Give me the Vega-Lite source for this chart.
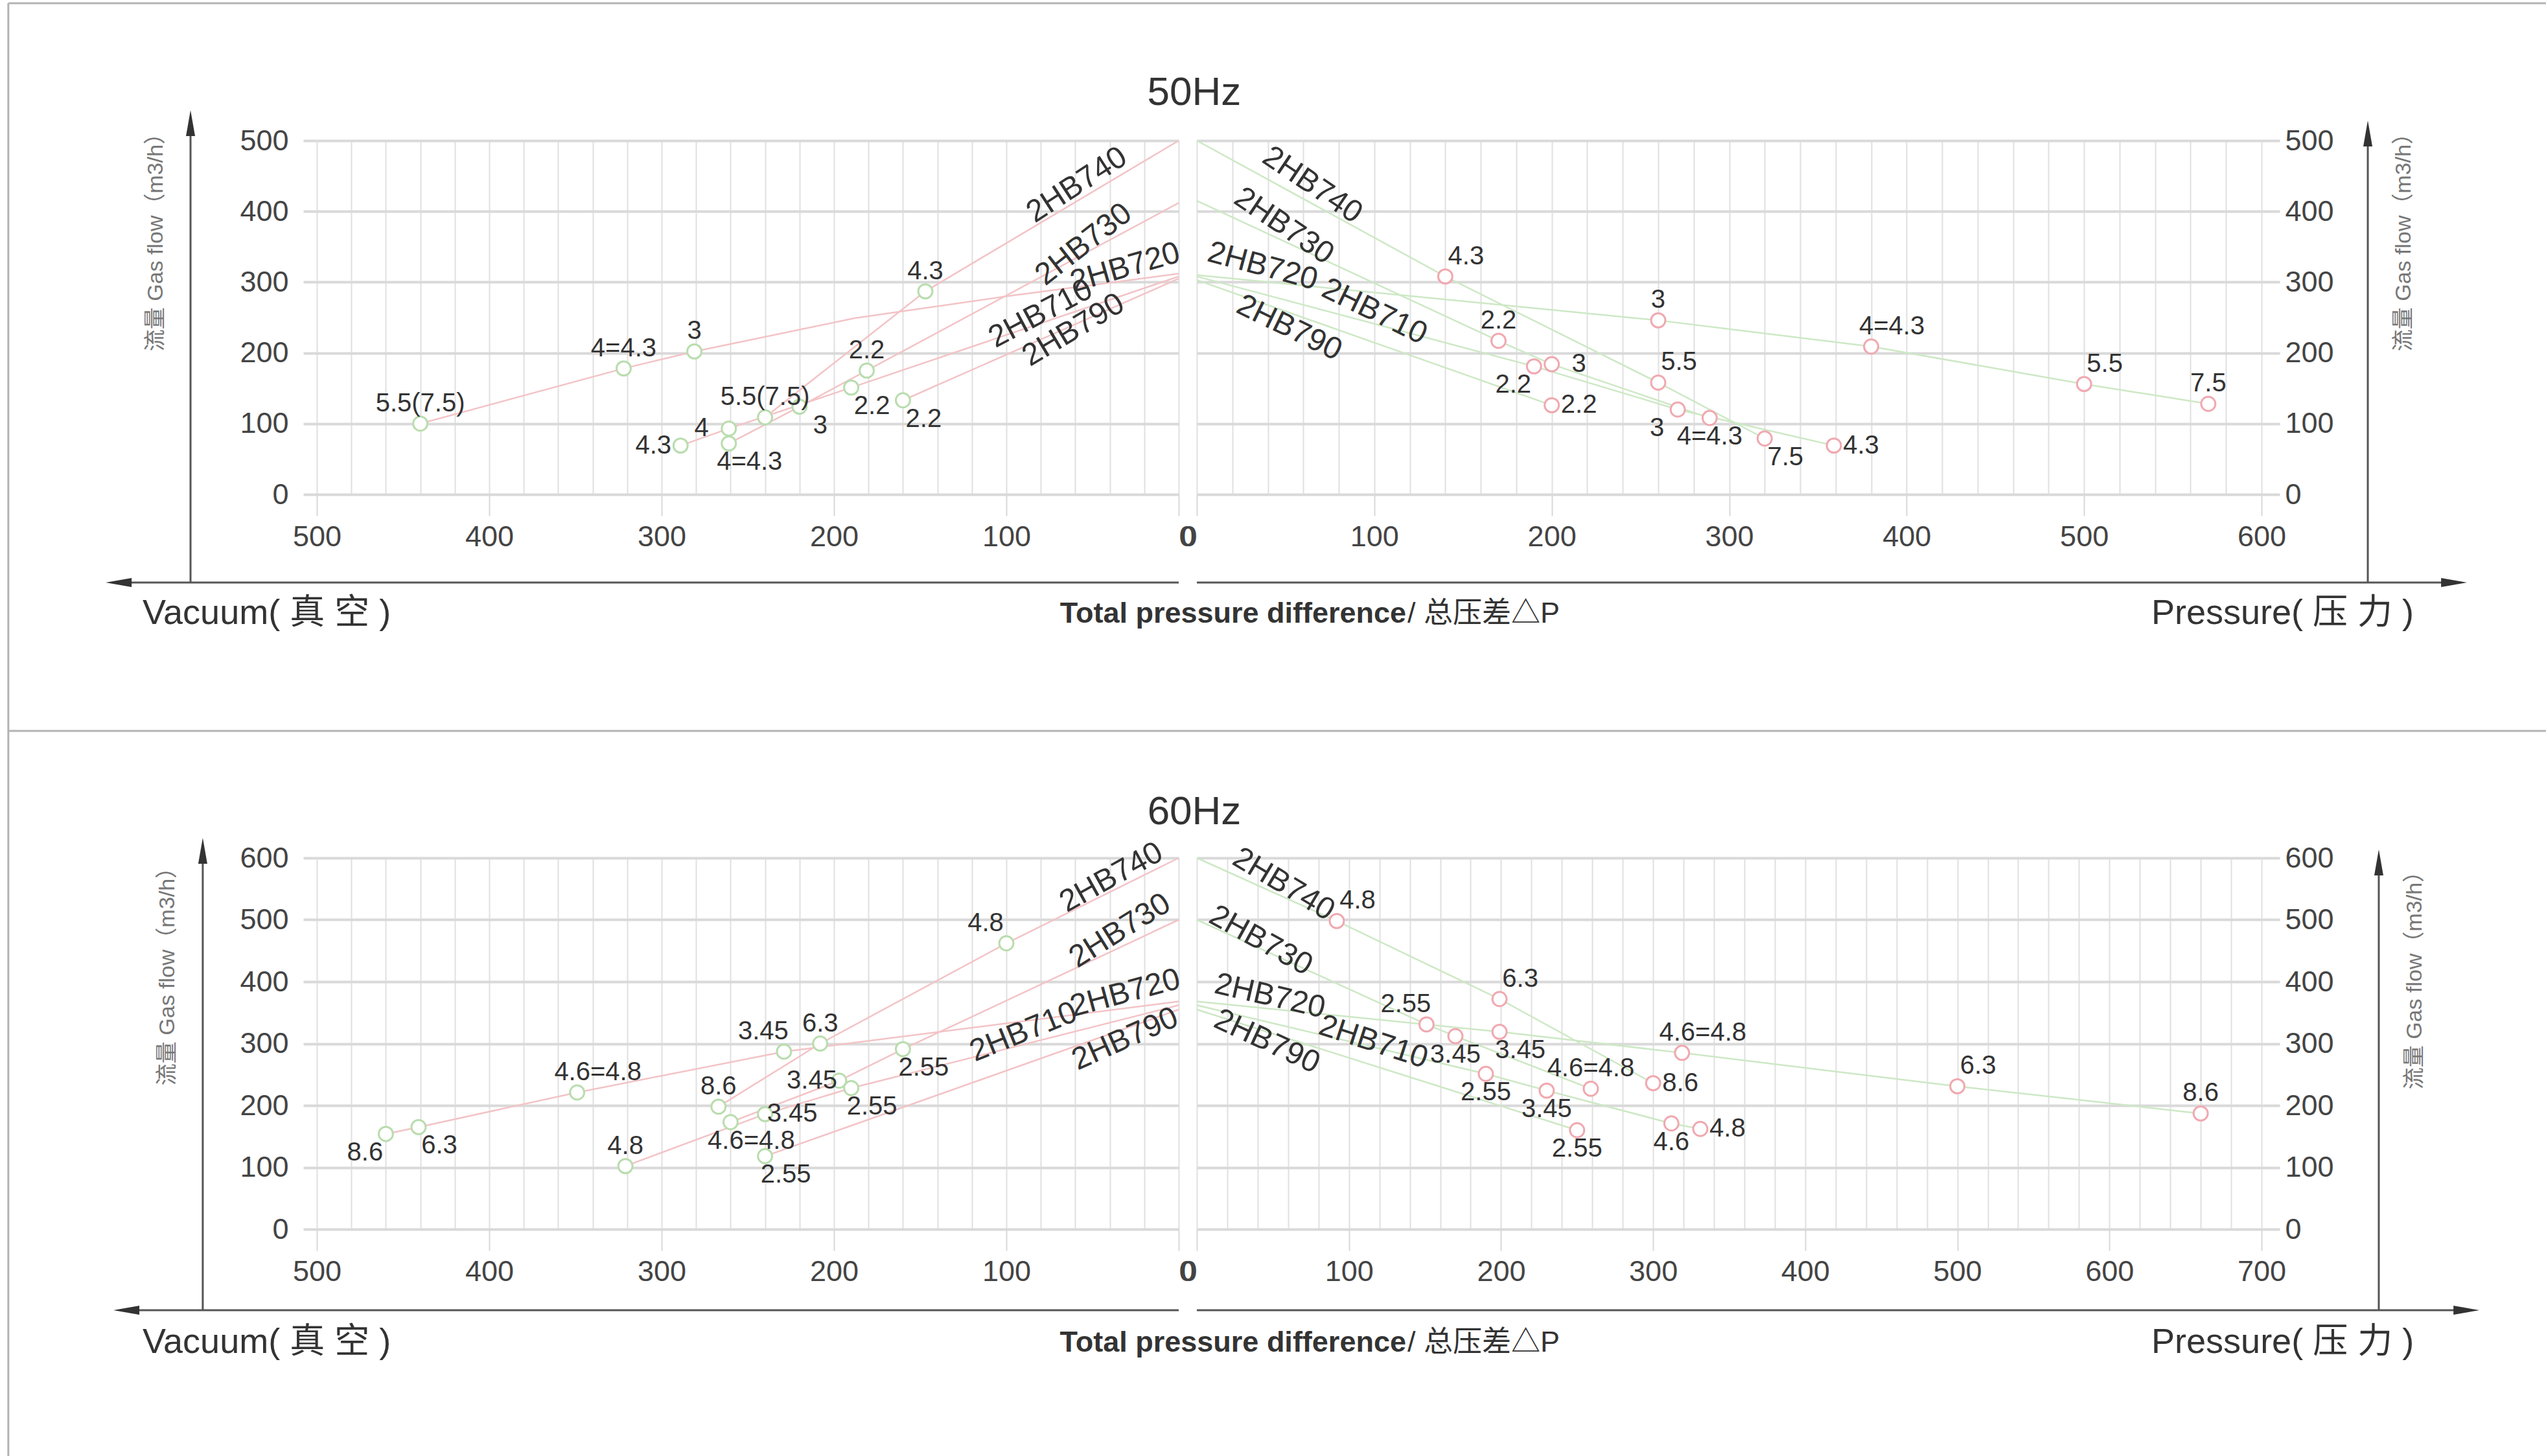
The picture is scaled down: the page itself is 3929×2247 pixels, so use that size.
{
  "$schema": "https://vega.github.io/schema/vega-lite/v6.json",
  "autosize": {"type": "none"},
  "padding": {"left": 489, "top": 217, "right": 3440, "bottom": 2030},
  "background": "#ffffff",
  "columns": 2,
  "spacing": {"row": 561, "column": 28},
  "bounds": "flush",
  "datasets": {
    "curves": [
      {"f":50,"s":"v","m":"2HB740","p":0,"q":500},
      {"f":50,"s":"v","m":"2HB740","p":147,"q":287,"kw":"4.3","pos":"t"},
      {"f":50,"s":"v","m":"2HB740","p":240,"q":109,"kw":"5.5(7.5)","pos":"t"},
      {"f":50,"s":"v","m":"2HB730","p":0,"q":412},
      {"f":50,"s":"v","m":"2HB730","p":181,"q":175,"kw":"2.2","pos":"t"},
      {"f":50,"s":"v","m":"2HB730","p":220,"q":124,"kw":"3","pos":"br"},
      {"f":50,"s":"v","m":"2HB730","p":261,"q":72,"kw":"4=4.3","pos":"br"},
      {"f":50,"s":"v","m":"2HB720","p":0,"q":312},
      {"f":50,"s":"v","m":"2HB720","p":100,"q":280},
      {"f":50,"s":"v","m":"2HB720","p":188,"q":249},
      {"f":50,"s":"v","m":"2HB720","p":281,"q":202,"kw":"3","pos":"t"},
      {"f":50,"s":"v","m":"2HB720","p":322,"q":178,"kw":"4=4.3","pos":"t"},
      {"f":50,"s":"v","m":"2HB720","p":440,"q":100,"kw":"5.5(7.5)","pos":"t"},
      {"f":50,"s":"v","m":"2HB710","p":0,"q":308},
      {"f":50,"s":"v","m":"2HB710","p":190,"q":151,"kw":"2.2","pos":"br"},
      {"f":50,"s":"v","m":"2HB710","p":261,"q":93,"kw":"4","pos":"l"},
      {"f":50,"s":"v","m":"2HB710","p":289,"q":69,"kw":"4.3","pos":"l"},
      {"f":50,"s":"v","m":"2HB790","p":0,"q":305},
      {"f":50,"s":"v","m":"2HB790","p":160,"q":133,"kw":"2.2","pos":"br"},

      {"f":50,"s":"p","m":"2HB740","p":0,"q":500},
      {"f":50,"s":"p","m":"2HB740","p":140,"q":308,"kw":"4.3","pos":"tr"},
      {"f":50,"s":"p","m":"2HB740","p":260,"q":158,"kw":"5.5","pos":"tr"},
      {"f":50,"s":"p","m":"2HB740","p":320,"q":79,"kw":"7.5","pos":"br"},
      {"f":50,"s":"p","m":"2HB730","p":0,"q":415},
      {"f":50,"s":"p","m":"2HB730","p":170,"q":217,"kw":"2.2","pos":"t"},
      {"f":50,"s":"p","m":"2HB730","p":200,"q":184,"kw":"3","pos":"r"},
      {"f":50,"s":"p","m":"2HB730","p":289,"q":108,"kw":"4=4.3","pos":"b"},
      {"f":50,"s":"p","m":"2HB720","p":0,"q":310},
      {"f":50,"s":"p","m":"2HB720","p":260,"q":246,"kw":"3","pos":"t"},
      {"f":50,"s":"p","m":"2HB720","p":380,"q":209,"kw":"4=4.3","pos":"tr"},
      {"f":50,"s":"p","m":"2HB720","p":500,"q":156,"kw":"5.5","pos":"tr"},
      {"f":50,"s":"p","m":"2HB720","p":570,"q":128,"kw":"7.5","pos":"t"},
      {"f":50,"s":"p","m":"2HB710","p":0,"q":308},
      {"f":50,"s":"p","m":"2HB710","p":190,"q":181,"kw":"2.2","pos":"bl"},
      {"f":50,"s":"p","m":"2HB710","p":271,"q":120,"kw":"3","pos":"bl"},
      {"f":50,"s":"p","m":"2HB710","p":359,"q":69,"kw":"4.3","pos":"r"},
      {"f":50,"s":"p","m":"2HB790","p":0,"q":303},
      {"f":50,"s":"p","m":"2HB790","p":200,"q":126,"kw":"2.2","pos":"r"},

      {"f":60,"s":"v","m":"2HB740","p":0,"q":600},
      {"f":60,"s":"v","m":"2HB740","p":100,"q":462,"kw":"4.8","pos":"tl"},
      {"f":60,"s":"v","m":"2HB740","p":208,"q":300,"kw":"6.3","pos":"t"},
      {"f":60,"s":"v","m":"2HB740","p":267,"q":198,"kw":"8.6","pos":"t"},
      {"f":60,"s":"v","m":"2HB730","p":0,"q":500},
      {"f":60,"s":"v","m":"2HB730","p":160,"q":291,"kw":"2.55","pos":"br"},
      {"f":60,"s":"v","m":"2HB730","p":197,"q":240,"kw":"3.45","pos":"l"},
      {"f":60,"s":"v","m":"2HB730","p":260,"q":173,"kw":"4.6=4.8","pos":"br"},
      {"f":60,"s":"v","m":"2HB720","p":0,"q":368},
      {"f":60,"s":"v","m":"2HB720","p":229,"q":287,"kw":"3.45","pos":"tl"},
      {"f":60,"s":"v","m":"2HB720","p":349,"q":221,"kw":"4.6=4.8","pos":"tr"},
      {"f":60,"s":"v","m":"2HB720","p":441,"q":165,"kw":"6.3","pos":"br"},
      {"f":60,"s":"v","m":"2HB720","p":460,"q":154,"kw":"8.6","pos":"bl"},
      {"f":60,"s":"v","m":"2HB710","p":0,"q":362},
      {"f":60,"s":"v","m":"2HB710","p":190,"q":228,"kw":"2.55","pos":"br"},
      {"f":60,"s":"v","m":"2HB710","p":240,"q":186,"kw":"3.45","pos":"r"},
      {"f":60,"s":"v","m":"2HB710","p":321,"q":102,"kw":"4.8","pos":"t"},
      {"f":60,"s":"v","m":"2HB790","p":0,"q":355},
      {"f":60,"s":"v","m":"2HB790","p":240,"q":118,"kw":"2.55","pos":"br"},

      {"f":60,"s":"p","m":"2HB740","p":0,"q":600},
      {"f":60,"s":"p","m":"2HB740","p":92,"q":498,"kw":"4.8","pos":"tr"},
      {"f":60,"s":"p","m":"2HB740","p":199,"q":372,"kw":"6.3","pos":"tr"},
      {"f":60,"s":"p","m":"2HB740","p":300,"q":236,"kw":"8.6","pos":"r"},
      {"f":60,"s":"p","m":"2HB730","p":0,"q":500},
      {"f":60,"s":"p","m":"2HB730","p":151,"q":331,"kw":"2.55","pos":"tl"},
      {"f":60,"s":"p","m":"2HB730","p":170,"q":312,"kw":"3.45","pos":"b"},
      {"f":60,"s":"p","m":"2HB730","p":259,"q":227,"kw":"4.6=4.8","pos":"t"},
      {"f":60,"s":"p","m":"2HB720","p":0,"q":368},
      {"f":60,"s":"p","m":"2HB720","p":199,"q":319,"kw":"3.45","pos":"br"},
      {"f":60,"s":"p","m":"2HB720","p":319,"q":285,"kw":"4.6=4.8","pos":"tr"},
      {"f":60,"s":"p","m":"2HB720","p":500,"q":231,"kw":"6.3","pos":"tr"},
      {"f":60,"s":"p","m":"2HB720","p":660,"q":187,"kw":"8.6","pos":"t"},
      {"f":60,"s":"p","m":"2HB710","p":0,"q":362},
      {"f":60,"s":"p","m":"2HB710","p":190,"q":251,"kw":"2.55","pos":"b"},
      {"f":60,"s":"p","m":"2HB710","p":230,"q":224,"kw":"3.45","pos":"b"},
      {"f":60,"s":"p","m":"2HB710","p":312,"q":171,"kw":"4.6","pos":"b"},
      {"f":60,"s":"p","m":"2HB710","p":331,"q":162,"kw":"4.8","pos":"r"},
      {"f":60,"s":"p","m":"2HB790","p":0,"q":355},
      {"f":60,"s":"p","m":"2HB790","p":250,"q":160,"kw":"2.55","pos":"b"}
    ],
    "models": [
      {"f":50,"s":"v","m":"2HB740","lx":59,"ly":437},
      {"f":50,"s":"v","m":"2HB730","lx":55,"ly":353},
      {"f":50,"s":"v","m":"2HB720","lx":31,"ly":320},
      {"f":50,"s":"v","m":"2HB710","lx":80,"ly":255},
      {"f":50,"s":"v","m":"2HB790","lx":61,"ly":232},
      {"f":50,"s":"p","m":"2HB740","lx":65,"ly":437},
      {"f":50,"s":"p","m":"2HB730","lx":49,"ly":379},
      {"f":50,"s":"p","m":"2HB720","lx":37,"ly":322},
      {"f":50,"s":"p","m":"2HB710","lx":100,"ly":258},
      {"f":50,"s":"p","m":"2HB790","lx":52,"ly":235},
      {"f":60,"s":"v","m":"2HB740","lx":39,"ly":568},
      {"f":60,"s":"v","m":"2HB730","lx":34,"ly":482},
      {"f":60,"s":"v","m":"2HB720","lx":31,"ly":381},
      {"f":60,"s":"v","m":"2HB710","lx":90,"ly":318},
      {"f":60,"s":"v","m":"2HB790","lx":31,"ly":307},
      {"f":60,"s":"p","m":"2HB740","lx":57,"ly":557},
      {"f":60,"s":"p","m":"2HB730","lx":42,"ly":466},
      {"f":60,"s":"p","m":"2HB720","lx":48,"ly":376},
      {"f":60,"s":"p","m":"2HB710","lx":116,"ly":302},
      {"f":60,"s":"p","m":"2HB790","lx":46,"ly":303}
    ]
  },
  "concat": [
    {
      "width": 1330, "height": 546,
      "layer": [
        {
          "data": {"name": "curves"},
          "transform": [{"filter": "datum.f == 50 && datum.s == 'v'"}],
          "mark": {"type": "line", "color": "#f3c3c6", "strokeWidth": 2.5},
          "encoding": {
            "x": {"field": "p", "type": "quantitative",
              "scale": {"domain": [0, 500], "reverse": true, "nice": false, "zero": false},
              "axis": {"values": [0,20,40,60,80,100,120,140,160,180,200,220,240,260,280,300,320,340,360,380,400,420,440,460,480,500],
                "labelExpr": "datum.value % 100 === 0 ? datum.label : ''",
                "labelAlign": {"condition": {"test": "datum.value === 0", "value": "left"}, "value": "center"},
                "tickOpacity": {"condition": {"test": "datum.value % 100 === 0", "value": 1}, "value": 0},
                "title": null}},
            "y": {"field": "q", "type": "quantitative",
              "scale": {"domain": [0, 500], "nice": false},
              "axis": {"values": [0,100,200,300,400,500], "tickSize": 21, "labelPadding": 23,
                "title": "流量 Gas flow（m3/h）", "titleX": -249, "titleY": 148}},
            "detail": {"field": "m"}
          }
        },
        {
          "data": {"name": "curves"},
          "transform": [{"filter": "datum.f == 50 && datum.s == 'v' && isValid(datum.kw)"}],
          "mark": {"type": "point", "filled": true, "color": "#ffffff", "stroke": "#b9ddae", "strokeWidth": 3, "size": 480, "opacity": 1},
          "encoding": {"x": {"field": "p", "type": "quantitative"}, "y": {"field": "q", "type": "quantitative"}}
        },
        {
          "data": {"name": "curves"},
          "transform": [{"filter": "datum.f == 50 && datum.s == 'v' && isValid(datum.kw)"}],
          "mark": {"type": "text", "font": "Liberation Sans", "fontSize": 40, "color": "#333333", "align": "center", "baseline": "middle",
            "dx": {"expr": "datum.pos=='t'||datum.pos=='b' ? 0 : datum.pos=='l' ? -42 : datum.pos=='r' ? 42 : (datum.pos=='tl'||datum.pos=='bl') ? -32 : 32"},
            "dy": {"expr": "datum.pos=='l'||datum.pos=='r' ? 0 : (datum.pos=='t'||datum.pos=='tl'||datum.pos=='tr') ? -31 : 29"}},
          "encoding": {"x": {"field": "p", "type": "quantitative"}, "y": {"field": "q", "type": "quantitative"}, "text": {"field": "kw"}}
        },
        {
          "data": {"name": "models"},
          "transform": [{"filter": "datum.f == 50 && datum.s == 'v'"}],
          "mark": {"type": "text", "font": "Liberation Sans", "fontSize": 48, "color": "#333333", "align": "center", "baseline": "middle",
            "angle": {"expr": "datum.m=='2HB740' ? 327 : datum.m=='2HB730' ? 322 : datum.m=='2HB720' ? 344 : datum.m=='2HB710' ? 332 : 329"}},
          "encoding": {"x": {"field": "lx", "type": "quantitative"}, "y": {"field": "ly", "type": "quantitative"}, "text": {"field": "m"}}
        },
        {
          "data": {"values": [{}]},
          "layer": [
            {"mark": {"type": "rule", "color": "#b3b3b3", "strokeWidth": 3}, "encoding": {"x": {"datum": 679}, "y": {"datum": 694.1}, "y2": {"datum": -1359}}},
            {"mark": {"type": "rule", "color": "#b3b3b3", "strokeWidth": 3}, "encoding": {"x": {"datum": 679}, "x2": {"datum": -793.2}, "y": {"datum": 694.1}}},
            {"mark": {"type": "rule", "color": "#b3b3b3", "strokeWidth": 3}, "encoding": {"x": {"datum": 679}, "x2": {"datum": -793.2}, "y": {"datum": -334.2}}},
            {"mark": {"type": "rule", "color": "#555555", "strokeWidth": 3}, "encoding": {"x": {"datum": 573.3}, "y": {"datum": -124.5}, "y2": {"datum": 524.7}}},
            {"mark": {"type": "rule", "color": "#555555", "strokeWidth": 3}, "encoding": {"x": {"datum": 0}, "x2": {"datum": 615}, "y": {"datum": -124.5}}},
            {"mark": {"type": "point", "shape": "M0,-1L0.35,1L-0.35,1Z", "filled": true, "color": "#333333", "size": 1600, "opacity": 1}, "encoding": {"x": {"datum": 573.3}, "y": {"datum": 524.7}}},
            {"mark": {"type": "point", "shape": "M-1,0L1,-0.35L1,0.35Z", "filled": true, "color": "#333333", "size": 1600, "opacity": 1}, "encoding": {"x": {"datum": 615}, "y": {"datum": -124.5}}},
            {"mark": {"type": "text", "text": "Vacuum( 真 空 )", "font": "Liberation Sans, Noto Sans CJK SC", "fontSize": 54, "color": "#333333", "align": "left", "baseline": "middle"}, "encoding": {"x": {"datum": 601.1}, "y": {"datum": -168.5}}}
          ]
        }
      ]
    },
    {
      "width": 1643, "height": 546,
      "layer": [
        {
          "data": {"name": "curves"},
          "transform": [{"filter": "datum.f == 50 && datum.s == 'p'"}],
          "mark": {"type": "line", "color": "#cde8c5", "strokeWidth": 2.5},
          "encoding": {
            "x": {"field": "p", "type": "quantitative",
              "scale": {"domain": [0, 600], "nice": false, "zero": false},
              "axis": {"values": [0,20,40,60,80,100,120,140,160,180,200,220,240,260,280,300,320,340,360,380,400,420,440,460,480,500,520,540,560,580,600],
                "labelExpr": "datum.value % 100 === 0 ? datum.label : ''",
                "labelAlign": {"condition": {"test": "datum.value === 0", "value": "right"}, "value": "center"},
                "tickOpacity": {"condition": {"test": "datum.value % 100 === 0", "value": 1}, "value": 0},
                "title": null}},
            "y": {"field": "q", "type": "quantitative",
              "scale": {"domain": [0, 500], "nice": false},
              "axis": {"orient": "right", "values": [0,100,200,300,400,500], "tickSize": 28, "labelPadding": 8,
                "title": "流量 Gas flow（m3/h）", "titleAngle": 270, "titleX": 219, "titleY": 148}},
            "detail": {"field": "m"}
          }
        },
        {
          "data": {"name": "curves"},
          "transform": [{"filter": "datum.f == 50 && datum.s == 'p' && isValid(datum.kw)"}],
          "mark": {"type": "point", "filled": true, "color": "#ffffff", "stroke": "#f0a9b0", "strokeWidth": 3, "size": 480, "opacity": 1},
          "encoding": {"x": {"field": "p", "type": "quantitative"}, "y": {"field": "q", "type": "quantitative"}}
        },
        {
          "data": {"name": "curves"},
          "transform": [{"filter": "datum.f == 50 && datum.s == 'p' && isValid(datum.kw)"}],
          "mark": {"type": "text", "font": "Liberation Sans", "fontSize": 40, "color": "#333333", "align": "center", "baseline": "middle",
            "dx": {"expr": "datum.pos=='t'||datum.pos=='b' ? 0 : datum.pos=='l' ? -42 : datum.pos=='r' ? 42 : (datum.pos=='tl'||datum.pos=='bl') ? -32 : 32"},
            "dy": {"expr": "datum.pos=='l'||datum.pos=='r' ? 0 : (datum.pos=='t'||datum.pos=='tl'||datum.pos=='tr') ? -31 : 29"}},
          "encoding": {"x": {"field": "p", "type": "quantitative"}, "y": {"field": "q", "type": "quantitative"}, "text": {"field": "kw"}}
        },
        {
          "data": {"name": "models"},
          "transform": [{"filter": "datum.f == 50 && datum.s == 'p'"}],
          "mark": {"type": "text", "font": "Liberation Sans", "fontSize": 48, "color": "#333333", "align": "center", "baseline": "middle",
            "angle": {"expr": "datum.m=='2HB740' ? 34 : datum.m=='2HB730' ? 34 : datum.m=='2HB720' ? 15 : datum.m=='2HB710' ? 26 : 26"}},
          "encoding": {"x": {"field": "lx", "type": "quantitative"}, "y": {"field": "ly", "type": "quantitative"}, "text": {"field": "m"}}
        },
        {
          "data": {"values": [{}]},
          "layer": [
            {"mark": {"type": "rule", "color": "#555555", "strokeWidth": 3}, "encoding": {"x": {"datum": 659.9}, "y": {"datum": -124.5}, "y2": {"datum": 510.1}}},
            {"mark": {"type": "rule", "color": "#555555", "strokeWidth": 3}, "encoding": {"x": {"datum": 0}, "x2": {"datum": 708.5}, "y": {"datum": -124.5}}},
            {"mark": {"type": "point", "shape": "M0,-1L0.35,1L-0.35,1Z", "filled": true, "color": "#333333", "size": 1600, "opacity": 1}, "encoding": {"x": {"datum": 659.9}, "y": {"datum": 510.1}}},
            {"mark": {"type": "point", "shape": "M1,0L-1,-0.35L-1,0.35Z", "filled": true, "color": "#333333", "size": 1600, "opacity": 1}, "encoding": {"x": {"datum": 708.5}, "y": {"datum": -124.5}}},
            {"mark": {"type": "text", "text": "Total pressure difference", "font": "Liberation Sans", "fontWeight": "bold", "fontSize": 45, "color": "#333333", "align": "right", "baseline": "middle"}, "encoding": {"x": {"datum": 118.0}, "y": {"datum": -168.5}}},
            {"mark": {"type": "text", "text": "/ 总压差△P", "font": "Liberation Sans, Noto Sans CJK SC", "fontSize": 45, "color": "#333333", "align": "left", "baseline": "middle"}, "encoding": {"x": {"datum": 118.7}, "y": {"datum": -168.5}}},
            {"mark": {"type": "text", "text": "Pressure( 压 力 )", "font": "Liberation Sans, Noto Sans CJK SC", "fontSize": 54, "color": "#333333", "align": "left", "baseline": "middle"}, "encoding": {"x": {"datum": 537.9}, "y": {"datum": -168.5}}},
            {"mark": {"type": "text", "text": "50Hz", "font": "Liberation Sans", "fontSize": 62, "color": "#333333", "align": "center", "baseline": "middle"}, "encoding": {"x": {"datum": -1.5}, "y": {"datum": 567.8}}}
          ]
        }
      ]
    },
    {
      "width": 1330, "height": 573,
      "layer": [
        {
          "data": {"name": "curves"},
          "transform": [{"filter": "datum.f == 60 && datum.s == 'v'"}],
          "mark": {"type": "line", "color": "#f3c3c6", "strokeWidth": 2.5},
          "encoding": {
            "x": {"field": "p", "type": "quantitative",
              "scale": {"domain": [0, 500], "reverse": true, "nice": false, "zero": false},
              "axis": {"values": [0,20,40,60,80,100,120,140,160,180,200,220,240,260,280,300,320,340,360,380,400,420,440,460,480,500],
                "labelExpr": "datum.value % 100 === 0 ? datum.label : ''",
                "labelAlign": {"condition": {"test": "datum.value === 0", "value": "left"}, "value": "center"},
                "tickOpacity": {"condition": {"test": "datum.value % 100 === 0", "value": 1}, "value": 0},
                "title": null}},
            "y": {"field": "q", "type": "quantitative",
              "scale": {"domain": [0, 600], "nice": false},
              "axis": {"values": [0,100,200,300,400,500,600], "tickSize": 21, "labelPadding": 23,
                "title": "流量 Gas flow（m3/h）", "titleX": -231, "titleY": 174}},
            "detail": {"field": "m"}
          }
        },
        {
          "data": {"name": "curves"},
          "transform": [{"filter": "datum.f == 60 && datum.s == 'v' && isValid(datum.kw)"}],
          "mark": {"type": "point", "filled": true, "color": "#ffffff", "stroke": "#b9ddae", "strokeWidth": 3, "size": 480, "opacity": 1},
          "encoding": {"x": {"field": "p", "type": "quantitative"}, "y": {"field": "q", "type": "quantitative"}}
        },
        {
          "data": {"name": "curves"},
          "transform": [{"filter": "datum.f == 60 && datum.s == 'v' && isValid(datum.kw)"}],
          "mark": {"type": "text", "font": "Liberation Sans", "fontSize": 40, "color": "#333333", "align": "center", "baseline": "middle",
            "dx": {"expr": "datum.pos=='t'||datum.pos=='b' ? 0 : datum.pos=='l' ? -42 : datum.pos=='r' ? 42 : (datum.pos=='tl'||datum.pos=='bl') ? -32 : 32"},
            "dy": {"expr": "datum.pos=='l'||datum.pos=='r' ? 0 : (datum.pos=='t'||datum.pos=='tl'||datum.pos=='tr') ? -31 : 29"}},
          "encoding": {"x": {"field": "p", "type": "quantitative"}, "y": {"field": "q", "type": "quantitative"}, "text": {"field": "kw"}}
        },
        {
          "data": {"name": "models"},
          "transform": [{"filter": "datum.f == 60 && datum.s == 'v'"}],
          "mark": {"type": "text", "font": "Liberation Sans", "fontSize": 48, "color": "#333333", "align": "center", "baseline": "middle",
            "angle": {"expr": "datum.m=='2HB740' ? 331 : datum.m=='2HB730' ? 328 : datum.m=='2HB720' ? 345 : datum.m=='2HB710' ? 338 : 336"}},
          "encoding": {"x": {"field": "lx", "type": "quantitative"}, "y": {"field": "ly", "type": "quantitative"}, "text": {"field": "m"}}
        },
        {
          "data": {"values": [{}]},
          "layer": [
            {"mark": {"type": "rule", "color": "#555555", "strokeWidth": 3}, "encoding": {"x": {"datum": 566.2}, "y": {"datum": -130.9}, "y2": {"datum": 611.5}}},
            {"mark": {"type": "rule", "color": "#555555", "strokeWidth": 3}, "encoding": {"x": {"datum": 0}, "x2": {"datum": 610.5}, "y": {"datum": -130.9}}},
            {"mark": {"type": "point", "shape": "M0,-1L0.35,1L-0.35,1Z", "filled": true, "color": "#333333", "size": 1600, "opacity": 1}, "encoding": {"x": {"datum": 566.2}, "y": {"datum": 611.5}}},
            {"mark": {"type": "point", "shape": "M-1,0L1,-0.35L1,0.35Z", "filled": true, "color": "#333333", "size": 1600, "opacity": 1}, "encoding": {"x": {"datum": 610.5}, "y": {"datum": -130.9}}},
            {"mark": {"type": "text", "text": "Vacuum( 真 空 )", "font": "Liberation Sans, Noto Sans CJK SC", "fontSize": 54, "color": "#333333", "align": "left", "baseline": "middle"}, "encoding": {"x": {"datum": 601.1}, "y": {"datum": -183.2}}}
          ]
        }
      ]
    },
    {
      "width": 1643, "height": 573,
      "layer": [
        {
          "data": {"name": "curves"},
          "transform": [{"filter": "datum.f == 60 && datum.s == 'p'"}],
          "mark": {"type": "line", "color": "#cde8c5", "strokeWidth": 2.5},
          "encoding": {
            "x": {"field": "p", "type": "quantitative",
              "scale": {"domain": [0, 700], "nice": false, "zero": false},
              "axis": {"values": [0,20,40,60,80,100,120,140,160,180,200,220,240,260,280,300,320,340,360,380,400,420,440,460,480,500,520,540,560,580,600,620,640,660,680,700],
                "labelExpr": "datum.value % 100 === 0 ? datum.label : ''",
                "labelAlign": {"condition": {"test": "datum.value === 0", "value": "right"}, "value": "center"},
                "tickOpacity": {"condition": {"test": "datum.value % 100 === 0", "value": 1}, "value": 0},
                "title": null}},
            "y": {"field": "q", "type": "quantitative",
              "scale": {"domain": [0, 600], "nice": false},
              "axis": {"orient": "right", "values": [0,100,200,300,400,500,600], "tickSize": 28, "labelPadding": 8,
                "title": "流量 Gas flow（m3/h）", "titleAngle": 270, "titleX": 236, "titleY": 180}},
            "detail": {"field": "m"}
          }
        },
        {
          "data": {"name": "curves"},
          "transform": [{"filter": "datum.f == 60 && datum.s == 'p' && isValid(datum.kw)"}],
          "mark": {"type": "point", "filled": true, "color": "#ffffff", "stroke": "#f0a9b0", "strokeWidth": 3, "size": 480, "opacity": 1},
          "encoding": {"x": {"field": "p", "type": "quantitative"}, "y": {"field": "q", "type": "quantitative"}}
        },
        {
          "data": {"name": "curves"},
          "transform": [{"filter": "datum.f == 60 && datum.s == 'p' && isValid(datum.kw)"}],
          "mark": {"type": "text", "font": "Liberation Sans", "fontSize": 40, "color": "#333333", "align": "center", "baseline": "middle",
            "dx": {"expr": "datum.pos=='t'||datum.pos=='b' ? 0 : datum.pos=='l' ? -42 : datum.pos=='r' ? 42 : (datum.pos=='tl'||datum.pos=='bl') ? -32 : 32"},
            "dy": {"expr": "datum.pos=='l'||datum.pos=='r' ? 0 : (datum.pos=='t'||datum.pos=='tl'||datum.pos=='tr') ? -31 : 29"}},
          "encoding": {"x": {"field": "p", "type": "quantitative"}, "y": {"field": "q", "type": "quantitative"}, "text": {"field": "kw"}}
        },
        {
          "data": {"name": "models"},
          "transform": [{"filter": "datum.f == 60 && datum.s == 'p'"}],
          "mark": {"type": "text", "font": "Liberation Sans", "fontSize": 48, "color": "#333333", "align": "center", "baseline": "middle",
            "angle": {"expr": "datum.m=='2HB740' ? 31 : datum.m=='2HB730' ? 29 : datum.m=='2HB720' ? 13 : datum.m=='2HB710' ? 18 : 25"}},
          "encoding": {"x": {"field": "lx", "type": "quantitative"}, "y": {"field": "ly", "type": "quantitative"}, "text": {"field": "m"}}
        },
        {
          "data": {"values": [{}]},
          "layer": [
            {"mark": {"type": "rule", "color": "#555555", "strokeWidth": 3}, "encoding": {"x": {"datum": 777.1}, "y": {"datum": -130.9}, "y2": {"datum": 592.7}}},
            {"mark": {"type": "rule", "color": "#555555", "strokeWidth": 3}, "encoding": {"x": {"datum": 0}, "x2": {"datum": 834.7}, "y": {"datum": -130.9}}},
            {"mark": {"type": "point", "shape": "M0,-1L0.35,1L-0.35,1Z", "filled": true, "color": "#333333", "size": 1600, "opacity": 1}, "encoding": {"x": {"datum": 777.1}, "y": {"datum": 592.7}}},
            {"mark": {"type": "point", "shape": "M1,0L-1,-0.35L-1,0.35Z", "filled": true, "color": "#333333", "size": 1600, "opacity": 1}, "encoding": {"x": {"datum": 834.7}, "y": {"datum": -130.9}}},
            {"mark": {"type": "text", "text": "Total pressure difference", "font": "Liberation Sans", "fontWeight": "bold", "fontSize": 45, "color": "#333333", "align": "right", "baseline": "middle"}, "encoding": {"x": {"datum": 137.6}, "y": {"datum": -183.2}}},
            {"mark": {"type": "text", "text": "/ 总压差△P", "font": "Liberation Sans, Noto Sans CJK SC", "fontSize": 45, "color": "#333333", "align": "left", "baseline": "middle"}, "encoding": {"x": {"datum": 138.5}, "y": {"datum": -183.2}}},
            {"mark": {"type": "text", "text": "Pressure( 压 力 )", "font": "Liberation Sans, Noto Sans CJK SC", "fontSize": 54, "color": "#333333", "align": "left", "baseline": "middle"}, "encoding": {"x": {"datum": 627.6}, "y": {"datum": -183.2}}},
            {"mark": {"type": "text", "text": "60Hz", "font": "Liberation Sans", "fontSize": 62, "color": "#333333", "align": "center", "baseline": "middle"}, "encoding": {"x": {"datum": -1.7}, "y": {"datum": 674.3}}}
          ]
        }
      ]
    }
  ],
  "config": {
    "view": {"stroke": null},
    "axis": {
      "domain": false,
      "labelFont": "Liberation Sans",
      "labelFontSize": 45,
      "labelColor": "#444444",
      "labelFlush": false,
      "labelOverlap": false,
      "labelBound": false,
      "titleFont": "Liberation Sans, Noto Sans CJK SC",
      "titleFontSize": 34,
      "titleFontWeight": "normal",
      "titleColor": "#777777",
      "titleAngle": 270,
      "titleAlign": "center",
      "titleBaseline": "middle"
    },
    "axisX": {"grid": true, "gridColor": "#e0e0e0", "gridWidth": 2, "ticks": true, "tickColor": "#d8d8d8", "tickWidth": 2, "tickSize": 33, "labelPadding": 10},
    "axisY": {"grid": true, "gridColor": "#d9d9d9", "gridWidth": 4, "ticks": true, "tickColor": "#d9d9d9", "tickWidth": 4}
  }
}
